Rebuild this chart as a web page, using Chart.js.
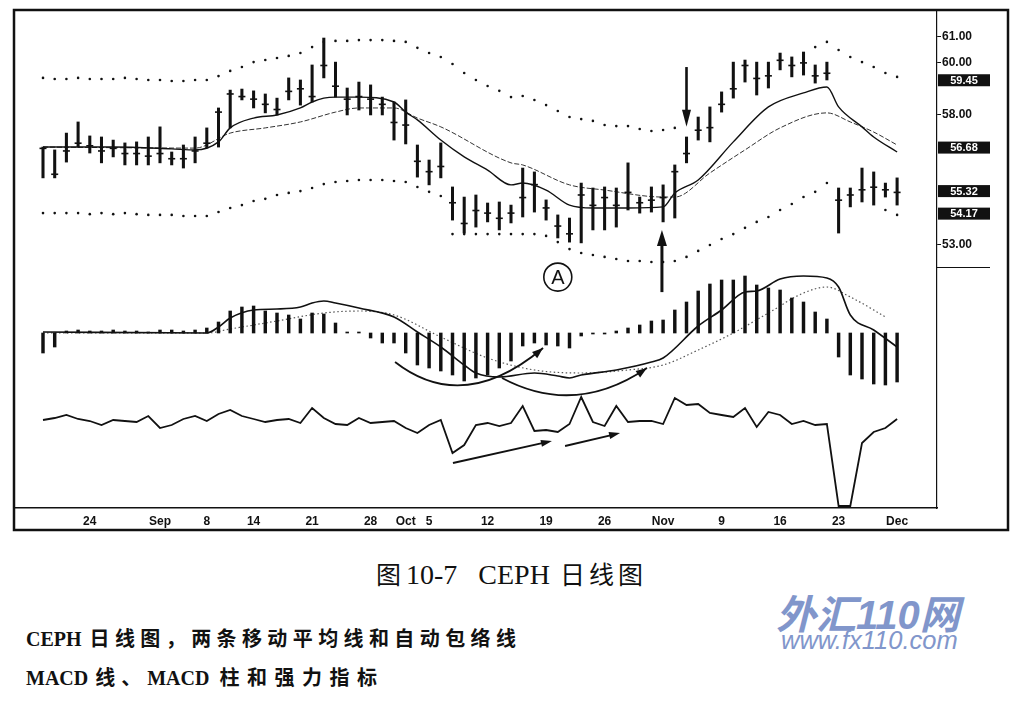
<!DOCTYPE html>
<html>
<head>
<meta charset="utf-8">
<script src="https://cdn.jsdelivr.net/npm/chart.js@4.4.1/dist/chart.umd.min.js"></script>
<style>
  body { margin: 0; background: #fff; width: 1021px; height: 705px; position: relative; overflow: hidden; }
  #wrap { position: absolute; left: 0; top: 0; width: 1021px; height: 540px; }
  .row { position: absolute; display: flex; align-items: baseline; white-space: nowrap; color: #111; }
  .lat { font-family: "Liberation Serif", serif; }
  .cjk { font-family: "Noto Sans CJK SC", sans-serif; }
  .wm { position: absolute; color: #8196cb; font-family: "Liberation Sans", "Noto Sans CJK SC", sans-serif; font-style: italic; white-space: nowrap; }
</style>
</head>
<body>
<div id="wrap"><canvas id="cephChart"></canvas></div>

<div class="row" style="left:376px;top:555px">
  <span class="cjk" style="font-size:25px">图</span>
  <span class="lat" style="font-size:28px;margin-left:5px">10-7</span>
  <span class="lat" style="font-size:28px;margin-left:21px">CEPH</span>
  <span class="cjk" style="font-size:25px;margin-left:10px;letter-spacing:4px">日线图</span>
</div>
<div class="row" style="left:26px;top:623px;font-weight:bold">
  <span class="lat" style="font-size:20px">CEPH</span>
  <span class="cjk" style="font-size:20px;margin-left:8px;letter-spacing:5.4px">日线图，两条移动平均线和自动包络线</span>
</div>
<div class="row" style="left:26px;top:662px;font-weight:bold">
  <span class="lat" style="font-size:20px">MACD</span>
  <span class="cjk" style="font-size:20px;margin-left:7px;letter-spacing:6px">线、</span>
  <span class="lat" style="font-size:20px">MACD</span>
  <span class="cjk" style="font-size:20px;margin-left:10px;letter-spacing:7.5px">柱和强力指标</span>
</div>
<div class="wm" style="left:776px;top:583px;font-size:40px;font-weight:bold">外汇110网</div>
<div class="wm" style="left:781px;top:626px;font-size:25.5px">www.fx110.com</div>

<script>
// ===== Dữ liệu giá (CEPH, 18/8 -> 1/12) =====
const highs = [56.75, 56.64, 57.29, 57.72, 57.18, 57.14, 57.02, 56.91, 56.95, 57.14,
  57.53, 56.56, 56.83, 57.14, 57.49, 58.26, 58.95, 58.99, 58.92, 58.80,
  58.64, 59.42, 59.34, 59.92, 60.96, 60.03, 59.03, 59.26, 59.15, 58.68,
  58.49, 58.57, 56.83, 56.25, 56.91, 55.21, 54.82, 54.90, 54.59, 54.63,
  54.51, 55.94, 55.79, 54.71, 54.13, 54.01, 55.36, 55.17, 55.21, 55.17,
  56.14, 54.82, 55.21, 55.29, 56.06, 57.14, 57.91, 58.30, 58.88, 60.03,
  60.11, 60.03, 60.03, 60.38, 60.23, 60.42, 59.92, 60.03, 55.17, 55.17,
  55.94, 55.79, 55.36, 55.56];
const lows = [55.56, 55.56, 56.17, 56.75, 56.52, 56.14, 56.37, 56.06, 56.06, 56.06,
  56.14, 56.06, 55.94, 56.14, 56.71, 56.75, 57.49, 58.57, 58.26, 58.07,
  57.99, 58.57, 58.37, 58.49, 59.42, 58.68, 57.99, 58.18, 57.99, 57.99,
  57.02, 56.87, 55.59, 55.29, 55.56, 53.93, 53.43, 53.66, 53.86, 53.55,
  53.82, 54.05, 54.24, 53.93, 53.24, 53.08, 53.05, 53.55, 53.55, 53.66,
  54.32, 54.20, 54.24, 53.86, 54.01, 56.14, 57.02, 56.95, 58.10, 58.64,
  59.26, 58.76, 59.03, 59.73, 59.46, 59.53, 59.22, 59.34, 53.43, 54.44,
  54.63, 54.51, 54.82, 54.51];
const closes = [56.70, 55.70, 56.60, 56.90, 56.80, 56.60, 56.70, 56.50, 56.50, 56.40,
  56.50, 56.30, 56.30, 56.60, 56.90, 58.10, 58.80, 58.70, 58.60, 58.40,
  58.20, 58.90, 59.00, 58.70, 59.90, 59.10, 58.60, 58.70, 58.60, 58.40,
  57.70, 57.60, 56.20, 55.80, 56.00, 54.60, 53.80, 54.30, 54.20, 54.00,
  54.20, 54.80, 55.30, 54.40, 53.70, 53.40, 54.90, 54.50, 54.80, 54.50,
  55.00, 54.60, 54.70, 54.80, 55.80, 56.50, 57.40, 57.50, 58.40, 59.00,
  59.90, 59.40, 59.50, 60.10, 59.90, 60.00, 59.50, 59.60, 54.70, 54.90,
  55.10, 55.20, 55.10, 55.00];

// ===== Đường bao tự động =====
const upperEnv = [59.42, 59.38, 59.38, 59.42, 59.38, 59.38, 59.38, 59.42, 59.38, 59.34,
  59.34, 59.30, 59.30, 59.34, 59.34, 59.49, 59.69, 59.84, 60.03, 60.11,
  60.19, 60.27, 60.38, 60.61, 60.81, 60.85, 60.85, 60.88, 60.88, 60.88,
  60.85, 60.81, 60.58, 60.38, 60.23, 59.96, 59.61, 59.34, 59.11, 58.92,
  58.68, 58.72, 58.57, 58.37, 58.14, 57.91, 57.83, 57.76, 57.60, 57.56,
  57.56, 57.45, 57.37, 57.41, 57.49, null, null, null, null, null,
  null, null, null, null, null, null, 60.61, 60.81, 60.50, 60.23,
  60.03, 59.84, 59.61, 59.46];
const lowerEnv = [54.20, 54.20, 54.20, 54.20, 54.16, 54.20, 54.16, 54.20, 54.16, 54.13,
  54.13, 54.13, 54.09, 54.09, 54.09, 54.24, 54.40, 54.51, 54.67, 54.75,
  54.90, 54.98, 55.05, 55.17, 55.32, 55.40, 55.44, 55.48, 55.48, 55.48,
  55.44, 55.40, 55.21, 55.02, 54.86, 53.39, 53.39, 53.39, 53.39, 53.39,
  53.39, 53.39, 53.39, 53.32, 53.08, 52.81, 52.66, 52.58, 52.51, 52.43,
  52.35, 52.35, 52.31, 52.31, 52.35, 52.51, 52.74, 52.97, 53.20, 53.39,
  53.63, 53.86, 54.05, 54.32, 54.55, 54.82, 55.02, 55.36, null, null,
  null, null, 54.32, 54.13];

// ===== Hai đường trung bình động (điểm) =====
const fastIdx = [0, 6, 11, 13, 15, 16, 18, 20, 22, 23, 24, 25, 27, 30, 31, 32, 34, 36, 38, 40,
  41, 43, 45, 47, 50, 53, 54, 56, 59, 62, 65, 67, 68, 70, 71, 73];
const fastVal = [56.75, 56.75, 56.68, 56.64, 56.95, 57.49, 57.87, 57.99, 58.26, 58.49, 58.64, 58.68, 58.68, 58.49, 58.10, 57.80, 57.02, 56.37, 55.86, 55.29,
  55.36, 55.09, 54.51, 54.40, 54.40, 54.44, 54.98, 55.48, 56.95, 58.30, 58.84, 59.07, 58.30, 57.53, 57.14, 56.56];
const slowIdx = [0, 13, 16, 19, 22, 25, 27, 30, 32, 34, 40, 41, 45, 48, 53, 54, 57, 60, 63, 67, 69, 71, 73];
const slowVal = [56.75, 56.71, 57.29, 57.49, 57.72, 58.10, 58.26, 58.26, 57.87, 57.53, 56.14, 56.06, 55.29, 55.09, 54.82, 54.82, 55.75, 56.64, 57.49, 58.07, 57.72, 57.33, 56.83];

// ===== MACD =====
const macdHist = [-0.20, -0.14, 0.02, 0.03, 0.02, 0.02, 0.03, 0.02, 0.02, 0.01,
  0.03, 0.03, 0.02, 0.03, 0.05, 0.11, 0.22, 0.26, 0.27, 0.22,
  0.20, 0.18, 0.14, 0.20, 0.19, 0.10, 0.01, 0.01, -0.05, -0.10,
  -0.10, -0.20, -0.32, -0.35, -0.38, -0.42, -0.48, -0.45, -0.42, -0.35,
  -0.28, -0.13, -0.10, -0.12, -0.13, -0.15, -0.03, -0.01, -0.01, 0.02,
  0.05, 0.08, 0.12, 0.13, 0.23, 0.31, 0.42, 0.49, 0.53, 0.53,
  0.57, 0.48, 0.45, 0.43, 0.35, 0.31, 0.21, 0.14, -0.24, -0.42,
  -0.46, -0.51, -0.52, -0.49];
const macdIdx = [0, 14, 15, 16, 18, 20, 22, 23, 24, 25, 27, 30, 32, 34, 36, 37, 39, 42, 44, 45,
  46, 49, 52, 53, 56, 58, 60, 61, 63, 65, 67, 68, 69, 71, 73];
const macdVal = [0.01, 0, 0.06, 0.15, 0.23, 0.24, 0.26, 0.30, 0.32, 0.30, 0.25, 0.16, 0.01, -0.14, -0.32, -0.40, -0.44, -0.40, -0.43, -0.45,
  -0.42, -0.37, -0.29, -0.25, 0.07, 0.23, 0.41, 0.42, 0.54, 0.57, 0.55, 0.46, 0.18, 0.03, -0.14];
const sigIdx = [0, 14, 16, 20, 24, 27, 30, 34, 38, 42, 46, 50, 53, 56, 59, 62, 65, 67, 69, 71, 72];
const sigVal = [0, 0, 0.04, 0.12, 0.20, 0.22, 0.18, -0.04, -0.25, -0.37, -0.40, -0.37, -0.32, -0.17, 0, 0.20, 0.40, 0.46, 0.36, 0.23, 0.16];

// ===== Chỉ số sức mạnh (Force Index) =====
const force = [0, 2, 5, 1, -1, -5, 0, -1, -2, 4,
  -8, -5, 1, 4, -1, 6, 10, 4, 1, -2,
  0, 1, -3, 12, 2, -4, -5, 2, -3, -2,
  -1, -8, -13, -5, 0, -33, -25, -5, -3, -6,
  -3, 14, -11, -10, -12, -4, 23, -2, -6, 14,
  -2, -1, -1, -4, 22, 15, 16, 7, 5, 3,
  12, -7, 8, 5, -4, -1, -5, -4, -86, -86,
  -23, -12, -8, 1];

// ===== Nhãn trục =====
const tickIdx = [4, 10, 14, 18, 23, 28, 31, 33, 38, 43, 48, 53, 58, 63, 68, 73];
const tickText = ["24", "Sep", "8", "14", "21", "28", "Oct", "5", "12", "19", "26", "Nov", "9", "16", "23", "Dec"];
const priceTicks = [61, 60, 58, 53];
const boxText = ["59.45", "56.68", "55.32", "54.17"];
const boxAt = [59.33, 56.73, 55.05, 54.18];

const pts = (arr) => arr.map((v, i) => ({ x: i, y: v }));
const pairs = (idx, vals) => idx.map((x, i) => ({ x: x, y: vals[i] }));
const INK = "#111";

// chú thích vẽ thêm (mũi tên, vòng tròn A)
function arrowHead(ctx, x1, y1, x2, y2, len, w) {
  const a = Math.atan2(y2 - y1, x2 - x1);
  const c = Math.cos(a), s = Math.sin(a);
  ctx.beginPath();
  ctx.moveTo(x2, y2);
  ctx.lineTo(x2 - len * c + (w / 2) * s, y2 - len * s - (w / 2) * c);
  ctx.lineTo(x2 - len * c - (w / 2) * s, y2 - len * s + (w / 2) * c);
  ctx.closePath();
  ctx.fill();
}
function straightArrow(ctx, x1, y1, x2, y2, lw, len, w) {
  const a = Math.atan2(y2 - y1, x2 - x1);
  ctx.lineWidth = lw;
  ctx.beginPath();
  ctx.moveTo(x1, y1);
  ctx.lineTo(x2 - Math.cos(a) * len * 0.7, y2 - Math.sin(a) * len * 0.7);
  ctx.stroke();
  arrowHead(ctx, x1, y1, x2, y2, len, w);
}

const decor = {
  id: "decor",
  afterDraw(chart) {
    const { ctx, chartArea: a } = chart;
    const { x, yP, yM, yF } = chart.scales;
    ctx.save();
    ctx.strokeStyle = INK;
    ctx.fillStyle = INK;

    // khung ngoài
    ctx.lineWidth = 2.5;
    ctx.strokeRect(a.left - 1, a.top - 2, yP.right - 2 - a.left, chart.height - 10 - (a.top - 2));

    // vạch chia bảng giá trên trục phải
    const ySplit = yP.getPixelForValue(52.1);
    ctx.lineWidth = 1.2;
    ctx.beginPath();
    ctx.moveTo(a.right, ySplit);
    ctx.lineTo(a.right + 53, ySplit);
    ctx.stroke();

    // nhãn giá đóng khung đen
    ctx.font = "bold 11px 'Liberation Sans'";
    ctx.textAlign = "center";
    ctx.textBaseline = "middle";
    boxText.forEach((t, i) => {
      const yy = yP.getPixelForValue(boxAt[i]);
      ctx.fillStyle = INK;
      ctx.fillRect(a.right + 1, yy - 6, 52, 12);
      ctx.fillStyle = "#fff";
      ctx.fillText(t, a.right + 27, yy + 0.5);
    });
    ctx.fillStyle = INK;

    // mũi tên lớn trên bảng giá
    straightArrow(ctx, x.getPixelForValue(55), yP.getPixelForValue(59.84),
      x.getPixelForValue(55), yP.getPixelForValue(57.53), 2.6, 17, 9);
    straightArrow(ctx, x.getPixelForValue(52.9), yP.getPixelForValue(51.15),
      x.getPixelForValue(52.9), yP.getPixelForValue(53.55), 3, 16, 10);

    // vòng tròn A
    const cx = x.getPixelForValue(44), cy = yP.getPixelForValue(51.73);
    ctx.lineWidth = 1.6;
    ctx.beginPath();
    ctx.arc(cx, cy, 14, 0, Math.PI * 2);
    ctx.stroke();
    ctx.font = "20px 'Liberation Sans'";
    ctx.fillText("A", cx, cy + 1);

    // hai mũi tên cong ở bảng MACD
    [[30.09, -0.29, 35.9, -0.82, 42.74, -0.15], [39.23, -0.45, 45.47, -0.84, 51.62, -0.35]].forEach((c) => {
      const p0x = x.getPixelForValue(c[0]), p0y = yM.getPixelForValue(c[1]);
      const cpx = x.getPixelForValue(c[2]), cpy = yM.getPixelForValue(c[3]);
      const p2x = x.getPixelForValue(c[4]), p2y = yM.getPixelForValue(c[5]);
      ctx.lineWidth = 1.8;
      ctx.beginPath();
      ctx.moveTo(p0x, p0y);
      ctx.quadraticCurveTo(cpx, cpy, p2x, p2y);
      ctx.stroke();
      arrowHead(ctx, cpx, cpy, p2x, p2y, 11, 8);
    });

    // hai mũi tên thẳng ở bảng Force Index
    [[35.04, -43, 43.5, -21], [44.62, -26, 49.32, -13]].forEach((c) => {
      straightArrow(ctx, x.getPixelForValue(c[0]), yF.getPixelForValue(c[1]),
        x.getPixelForValue(c[2]), yF.getPixelForValue(c[3]), 1.8, 11, 7);
    });
    ctx.restore();
  },
};

Chart.defaults.font.family = "Liberation Sans";
Chart.defaults.color = INK;

const ctxCeph = document.getElementById("cephChart");
new Chart(ctxCeph, {
  type: "bar",
  data: {
    datasets: [
      {
        label: "High-Low",
        data: lows.map((l, i) => ({ x: i, y: [l, highs[i]] })),
        yAxisID: "yP",
        backgroundColor: INK,
        barThickness: 2.4,
        grouped: false,
      },
      {
        type: "line",
        label: "Close",
        data: pts(closes),
        yAxisID: "yP",
        showLine: false,
        pointStyle: "line",
        pointRadius: 3.5,
        pointBorderWidth: 1.6,
        pointBorderColor: INK,
      },
      {
        type: "line",
        label: "Upper envelope",
        data: pts(upperEnv),
        yAxisID: "yP",
        showLine: false,
        pointRadius: 1.3,
        pointBorderWidth: 0,
        pointBackgroundColor: INK,
      },
      {
        type: "line",
        label: "Lower envelope",
        data: pts(lowerEnv),
        yAxisID: "yP",
        showLine: false,
        pointRadius: 1.3,
        pointBorderWidth: 0,
        pointBackgroundColor: INK,
      },
      {
        type: "line",
        label: "EMA fast",
        data: pairs(fastIdx, fastVal),
        yAxisID: "yP",
        borderColor: INK,
        borderWidth: 1.4,
        pointRadius: 0,
        cubicInterpolationMode: "monotone",
      },
      {
        type: "line",
        label: "EMA slow",
        data: pairs(slowIdx, slowVal),
        yAxisID: "yP",
        borderColor: "#333",
        borderWidth: 1,
        borderDash: [5, 2],
        pointRadius: 0,
        cubicInterpolationMode: "monotone",
      },
      {
        label: "MACD histogram",
        data: pts(macdHist),
        yAxisID: "yM",
        backgroundColor: INK,
        barThickness: 2.8,
        grouped: false,
      },
      {
        type: "line",
        label: "MACD",
        data: pairs(macdIdx, macdVal),
        yAxisID: "yM",
        borderColor: INK,
        borderWidth: 1.6,
        pointRadius: 0,
        cubicInterpolationMode: "monotone",
      },
      {
        type: "line",
        label: "Signal",
        data: pairs(sigIdx, sigVal),
        yAxisID: "yM",
        borderColor: "#555",
        borderWidth: 1.2,
        borderDash: [1.5, 2.5],
        pointRadius: 0,
        cubicInterpolationMode: "monotone",
      },
      {
        type: "line",
        label: "Force Index",
        data: pts(force),
        yAxisID: "yF",
        borderColor: INK,
        borderWidth: 1.8,
        pointRadius: 0,
        tension: 0,
      },
    ],
  },
  options: {
    responsive: true,
    maintainAspectRatio: false,
    animation: false,
    layout: { padding: { left: 15, top: 12, right: 10, bottom: 10 } },
    plugins: { legend: { display: false }, tooltip: { enabled: false } },
    scales: {
      x: {
        type: "linear",
        min: -2.393,
        max: 76.41,
        offset: false,
        grid: { display: false, drawTicks: false },
        border: { display: true, color: INK, width: 1.5 },
        afterBuildTicks: (s) => { s.ticks = tickIdx.map((v) => ({ value: v })); },
        afterFit: (s) => { s.height = 22; },
        ticks: {
          autoSkip: false,
          maxRotation: 0,
          padding: 6,
          font: { size: 12, weight: "bold" },
          callback: (v) => { const k = tickIdx.indexOf(v); return k < 0 ? "" : tickText[k]; },
        },
      },
      yP: {
        position: "right",
        min: 42.814,
        max: 61.965,
        afterBuildTicks: (s) => { s.ticks = priceTicks.map((v) => ({ value: v })); },
        afterFit: (s) => { s.width = 74; },
        grid: { drawOnChartArea: false, tickLength: 4, color: INK },
        border: { color: INK, width: 1.2 },
        ticks: {
          autoSkip: false,
          padding: 1,
          font: { size: 12, weight: "bold" },
          callback: (v) => Number(v).toFixed(2),
        },
      },
      yM: { display: false, min: -1.75, max: 3.21 },
      yF: { display: false, min: -88, max: 408 },
    },
  },
  plugins: [decor],
});
</script>
</body>
</html>
